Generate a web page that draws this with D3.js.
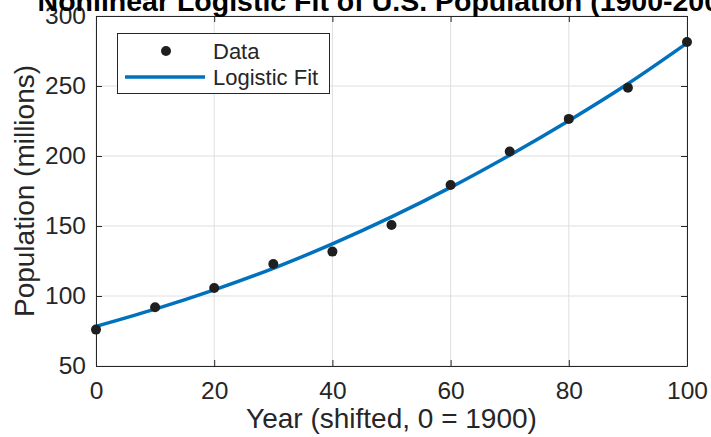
<!DOCTYPE html>
<html>
<head>
<meta charset="utf-8">
<script src="https://cdn.jsdelivr.net/npm/d3@7"></script>
<style>
  body { margin: 0; background: #fff; }
  svg { display: block; font-family: "Liberation Sans", Arial, Helvetica, sans-serif; }
</style>
</head>
<body>
<svg id="chart" width="711" height="437"></svg>
<script>
// Data
const years = [0, 10, 20, 30, 40, 50, 60, 70, 80, 90, 100];
const population = [76.0, 92.0, 105.7, 122.8, 131.7, 150.7, 179.3, 203.2, 226.5, 248.7, 281.4];
const fitYears = [0, 10, 20, 30, 40, 50, 60, 70, 80, 90, 100];
const fitValues = [78.3, 90.6, 104.4, 119.8, 137.2, 156.5, 177.6, 200.6, 225.2, 251.6, 280.6];
const xTicks = [0, 20, 40, 60, 80, 100];
const yTicks = [50, 100, 150, 200, 250, 300];
const titleText = "Nonlinear Logistic Fit of U.S. Population (1900-2000)";
const xLabelText = "Year (shifted, 0 = 1900)";
const yLabelText = "Population (millions)";
const legendLabels = ["Data", "Logistic Fit"];

const svg = d3.select("#chart");
const L = 96, R = 687, T = 16, B = 366;
const x = d3.scaleLinear().domain([0, 100]).range([L, R]);
const y = d3.scaleLinear().domain([50, 300]).range([B, T]);
const axisColor = "#262626";
const blue = "#0072BD";

// grid
const g = svg.append("g");
g.selectAll(".gx").data(xTicks).join("line")
  .attr("x1", d => x(d)).attr("x2", d => x(d))
  .attr("y1", T).attr("y2", B)
  .attr("stroke", "#dfdfdf").attr("stroke-width", 1);
g.selectAll(".gy").data(yTicks).join("line")
  .attr("x1", L).attr("x2", R)
  .attr("y1", d => y(d)).attr("y2", d => y(d))
  .attr("stroke", "#dfdfdf").attr("stroke-width", 1);

// axes
const tickSize = 6;
const fontTick = "24.5px";
const xAxisB = d3.axisBottom(x).tickValues(xTicks).tickSizeInner(-tickSize).tickSizeOuter(0).tickPadding(16);
const xAxisT = d3.axisTop(x).tickValues(xTicks).tickSizeInner(-tickSize).tickSizeOuter(0).tickFormat("");
const yAxisL = d3.axisLeft(y).tickValues(yTicks).tickSizeInner(-tickSize).tickSizeOuter(0).tickPadding(10);
const yAxisR = d3.axisRight(y).tickValues(yTicks).tickSizeInner(-tickSize).tickSizeOuter(0).tickFormat("");

function style(sel) {
  sel.selectAll("path").attr("stroke", axisColor).attr("stroke-width", 1);
  sel.selectAll("line").attr("stroke", axisColor).attr("stroke-width", 1);
  sel.selectAll("text").attr("fill", axisColor).style("font-size", fontTick).style("font-family", "Liberation Sans, Arial, sans-serif");
}
svg.append("g").attr("transform", `translate(0,${B})`).call(xAxisB).call(style);
svg.append("g").attr("transform", `translate(0,${T})`).call(xAxisT).call(style);
svg.append("g").attr("transform", `translate(${L},0)`).call(yAxisL).call(style);
svg.append("g").attr("transform", `translate(${R},0)`).call(yAxisR).call(style);

// fit line
const line = d3.line().x(d => x(d[0])).y(d => y(d[1])).curve(d3.curveCatmullRom);
svg.append("path")
  .datum(fitYears.map((t, i) => [t, fitValues[i]]))
  .attr("d", line)
  .attr("fill", "none").attr("stroke", blue).attr("stroke-width", 3.5);

// data points
svg.selectAll(".pt").data(years.map((t, i) => [t, population[i]])).join("circle")
  .attr("cx", d => x(d[0])).attr("cy", d => y(d[1])).attr("r", 5)
  .attr("fill", "#1f1f1f");

// title
svg.append("text").attr("x", (L + R) / 2).attr("y", 11)
  .attr("text-anchor", "middle").attr("font-weight", "bold")
  .style("font-size", "28.5px").attr("fill", "#000").text(titleText);

// x label
svg.append("text").attr("x", (L + R) / 2).attr("y", 428)
  .attr("text-anchor", "middle").style("font-size", "28px").attr("fill", axisColor).text(xLabelText);

// y label
svg.append("text").attr("transform", `translate(34,${(T + B) / 2}) rotate(-90)`)
  .attr("text-anchor", "middle").style("font-size", "28px").attr("fill", axisColor).text(yLabelText);

// legend
const lg = svg.append("g");
lg.append("rect").attr("x", 117.5).attr("y", 33.5).attr("width", 212).attr("height", 60)
  .attr("fill", "#fff").attr("stroke", axisColor).attr("stroke-width", 1);
lg.append("circle").attr("cx", 166).attr("cy", 51).attr("r", 5).attr("fill", "#1f1f1f");
lg.append("line").attr("x1", 125).attr("x2", 205).attr("y1", 77).attr("y2", 77)
  .attr("stroke", blue).attr("stroke-width", 3.5);
lg.append("text").attr("x", 213).attr("y", 59).style("font-size", "22px").attr("fill", axisColor).text(legendLabels[0]);
lg.append("text").attr("x", 213).attr("y", 85).style("font-size", "22px").attr("fill", axisColor).text(legendLabels[1]);
</script>
</body>
</html>
